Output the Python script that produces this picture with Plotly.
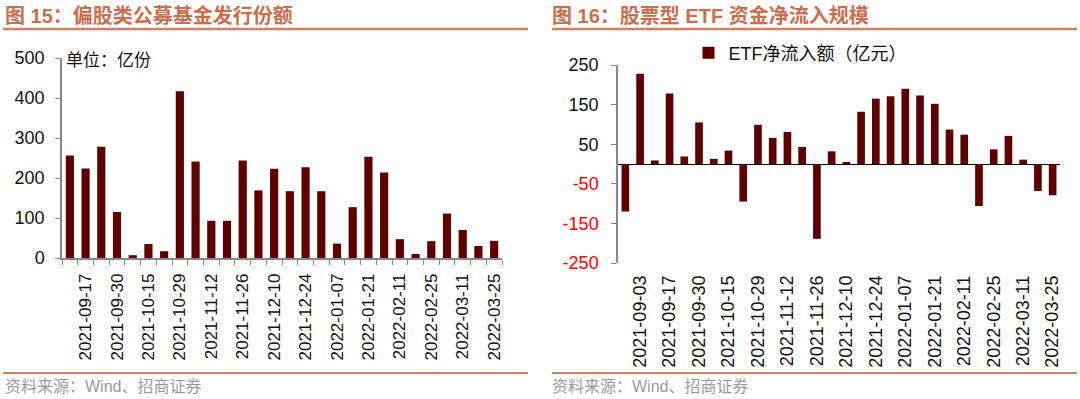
import plotly.graph_objects as go

# ---------- data ----------
dates_left = ["2021-09-10", "2021-09-17", "2021-09-24", "2021-09-30", "2021-10-08", "2021-10-15",
              "2021-10-22", "2021-10-29", "2021-11-05", "2021-11-12", "2021-11-19", "2021-11-26",
              "2021-12-03", "2021-12-10", "2021-12-17", "2021-12-24", "2021-12-31", "2022-01-07",
              "2022-01-14", "2022-01-21", "2022-01-28", "2022-02-11", "2022-02-18", "2022-02-25",
              "2022-03-04", "2022-03-11", "2022-03-18", "2022-03-25"]
fund_issue = [256, 224, 278, 115, 7, 35, 17, 417, 241, 93, 93, 244, 169, 223, 167, 227, 167, 36,
              127, 253, 214, 47, 10, 42, 111, 70, 30, 43]

dates_right = ["2021-08-27", "2021-09-03"] + dates_left
etf_flow = [-120, 228, 9, 178, 19, 105, 13, 34, -95, 99, 66, 81, 43, -189, 32, 3, 132, 165, 171,
            190, 173, 152, 87, 74, -106, 37, 71, 11, -68, -79]

left_yticks = [0, 100, 200, 300, 400, 500]
right_yticks = [-250, -150, -50, 50, 150, 250]

title_left = "图 15：偏股类公募基金发行份额"
title_right = "图 16：股票型 ETF 资金净流入规模"
source_text = "资料来源：Wind、招商证券"
unit_text = "单位：亿份"
legend_name = "ETF净流入额（亿元）"

# ---------- style ----------
W, H = 1080, 399
BAR = "#5E0000"
ACCENT = "#CF8163"
TITLE_C = "#C96E4F"
FONT = "Liberation Sans, Arial, Noto Sans CJK SC, sans-serif"
AXIS_C = "#888888"


def px_x(x):
    return x / W


def px_y(y):
    return 1 - y / H


fig = go.Figure()

fig.add_trace(go.Bar(x=dates_left, y=fund_issue, marker_color=BAR, marker_line_width=0,
                     xaxis="x", yaxis="y", showlegend=False))
fig.add_trace(go.Bar(x=dates_right, y=etf_flow, marker_color=BAR, marker_line_width=0,
                     xaxis="x2", yaxis="y2", name=legend_name, showlegend=True))

left_ticktext = [d if i % 2 == 1 else "" for i, d in enumerate(dates_left)]
right_ticktext = [d if i % 2 == 1 else "" for i, d in enumerate(dates_right)]
right_ytext = [("<span style='color:#FF0000'>%d</span>" % v) if v < 0 else str(v) for v in right_yticks]

fig.update_layout(
    width=W, height=H,
    margin=dict(l=0, r=0, t=0, b=0, autoexpand=False),
    paper_bgcolor="white", plot_bgcolor="white",
    bargap=0.48,
    font=dict(family=FONT, size=17, color="#111111"),
    xaxis=dict(domain=[px_x(62), px_x(502)], anchor="y", type="category",
               tickmode="array", tickvals=dates_left, ticktext=left_ticktext,
               tickson="boundaries", ticks="outside", ticklen=5, tickcolor=AXIS_C, tickwidth=1,
               tickangle=-90, tickfont=dict(size=17, color="#111111"), automargin=False,
               ticklabelstandoff=7,
               showline=True, linecolor=AXIS_C, linewidth=1.5, showgrid=False, zeroline=False),
    yaxis=dict(domain=[px_y(258), px_y(58)], anchor="x", range=[0, 500],
               tickmode="array", tickvals=left_yticks, automargin=False,
               ticks="outside", ticklen=5, tickcolor=AXIS_C, tickwidth=1, ticklabelstandoff=7,
               showline=True, linecolor=AXIS_C, linewidth=1.5, showgrid=False, zeroline=False,
               tickfont=dict(size=18, color="#111111")),
    xaxis2=dict(domain=[px_x(618), px_x(1060)], anchor="y2", type="category",
                tickmode="array", tickvals=dates_right, ticktext=right_ticktext, automargin=False,
                ticks="", tickangle=-90, tickfont=dict(size=18, color="#111111"),
                ticklabelstandoff=8,
                showline=False, showgrid=False, zeroline=False),
    yaxis2=dict(domain=[px_y(263), px_y(65)], anchor="x2", range=[-250, 250],
                tickmode="array", tickvals=right_yticks, ticktext=right_ytext, automargin=False,
                ticks="outside", ticklen=5, tickcolor=AXIS_C, tickwidth=1, ticklabelstandoff=9,
                showline=True, linecolor=AXIS_C, linewidth=1.5, showgrid=False,
                zeroline=True, zerolinecolor="#000000", zerolinewidth=1.2,
                tickfont=dict(size=18, color="#111111")),
    legend=dict(x=px_x(800), y=px_y(53), xanchor="center", yanchor="middle",
                orientation="h", font=dict(size=18, color="#111111"),
                bgcolor="rgba(0,0,0,0)", itemwidth=30),
)

# titles
fig.add_annotation(text="<b>" + title_left + "</b>", x=px_x(3), y=px_y(15), xref="paper", yref="paper",
                   xanchor="left", yanchor="middle", showarrow=False,
                   font=dict(size=20, color=TITLE_C, family=FONT))
fig.add_annotation(text="<b>" + title_right + "</b>", x=px_x(550), y=px_y(15), xref="paper", yref="paper",
                   xanchor="left", yanchor="middle", showarrow=False,
                   font=dict(size=20, color=TITLE_C, family=FONT))

# unit label
fig.add_annotation(text=unit_text, x=px_x(64), y=px_y(60), xref="paper", yref="paper",
                   xanchor="left", yanchor="middle", showarrow=False,
                   font=dict(size=17, color="#111111", family=FONT))

# source footers
for x0 in (3, 550):
    fig.add_annotation(text=source_text, x=px_x(x0), y=px_y(386), xref="paper", yref="paper",
                       xanchor="left", yanchor="middle", showarrow=False,
                       font=dict(size=16, color="#9A9A9A", family=FONT))

# separator lines
for (a, b) in ((3, 528), (552, 1077)):
    fig.add_shape(type="line", xref="paper", yref="paper", x0=px_x(a), x1=px_x(b),
                  y0=px_y(29), y1=px_y(29), line=dict(color=ACCENT, width=2.5))
    fig.add_shape(type="line", xref="paper", yref="paper", x0=px_x(a), x1=px_x(b),
                  y0=px_y(373), y1=px_y(373), line=dict(color=ACCENT, width=2))

fig.write_html("out.html", config={"displayModeBar": False},
               post_script="document.body.style.margin='0px';")
